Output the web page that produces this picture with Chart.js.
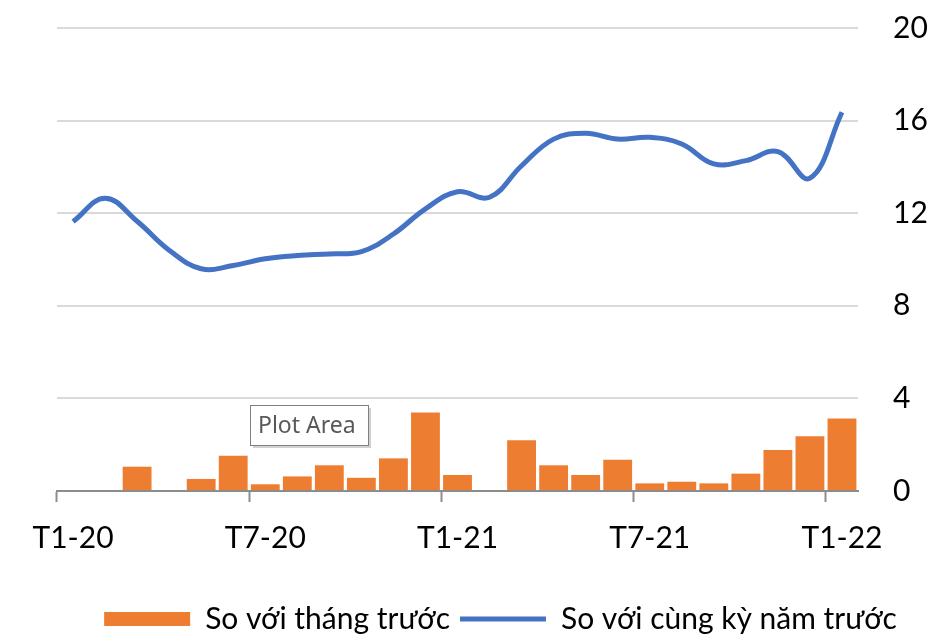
<!DOCTYPE html>
<html>
<head>
<meta charset="utf-8">
<script src="https://cdn.jsdelivr.net/npm/chart.js@4.4.1/dist/chart.umd.min.js"></script>
<style>
  html, body { margin: 0; padding: 0; background: #fff; }
  #wrap { width: 944px; height: 644px; }
</style>
</head>
<body>
<div id="wrap"><canvas id="cpiChart"></canvas></div>
<script>
"use strict";

// months T1-20 .. T1-22
var months = ['T1-20', 'T2-20', 'T3-20', 'T4-20', 'T5-20', 'T6-20', 'T7-20', 'T8-20', 'T9-20', 'T10-20', 'T11-20', 'T12-20',
    'T1-21', 'T2-21', 'T3-21', 'T4-21', 'T5-21', 'T6-21', 'T7-21', 'T8-21', 'T9-21', 'T10-21', 'T11-21', 'T12-21', 'T1-22'];
var soVoiThangTruoc = [0, 0, 1.05, 0, 0.52, 1.52, 0.29, 0.63, 1.11, 0.57, 1.41, 3.39,
    0.69, 0, 2.19, 1.11, 0.69, 1.35, 0.33, 0.40, 0.33, 0.75, 1.77, 2.37, 3.13];
var soVoiCungKy = [11.64, 12.65, 11.65, 10.4, 9.6, 9.74, 10.03, 10.17, 10.24, 10.34, 11.1, 12.19,
    12.93, 12.69, 14.05, 15.2, 15.45, 15.2, 15.28, 14.99, 14.13, 14.27, 14.66, 13.51, 16.36];
var yTicks = [0, 4, 8, 12, 16, 20];

var fontFamily = 'Lato, "Open Sans", sans-serif';

// the little Excel hover box
var plotAreaTip = {
    id: 'plotAreaTip',
    afterDraw: function (chart) {
        var c = chart.ctx;
        var x = 250, y = 405, w = 118, h = 40;
        c.save();
        c.fillStyle = 'rgba(0,0,0,0.18)';
        c.fillRect(x + 3, y + 3, w, h);
        c.fillStyle = '#fff';
        c.fillRect(x, y, w, h);
        c.strokeStyle = '#7f7f7f';
        c.lineWidth = 1;
        c.strokeRect(x + 0.5, y + 0.5, w, h);
        c.fillStyle = '#595959';
        c.font = '23px "Noto Sans", sans-serif';
        c.textBaseline = 'middle';
        c.fillText('Plot Area', x + 8, y + h / 2 + 1);
        c.restore();
    }
};

var ctx = document.getElementById('cpiChart').getContext('2d');
new Chart(ctx, {
    type: 'bar',
    data: {
        labels: months,
        datasets: [{
            type: 'bar',
            label: 'So với tháng trước',
            data: soVoiThangTruoc,
            backgroundColor: '#ED7D31',
            borderWidth: 0,
            barPercentage: 0.9,
            categoryPercentage: 1.0,
            pointStyle: 'rect'
        }, {
            type: 'line',
            label: 'So với cùng kỳ năm trước',
            data: soVoiCungKy,
            borderColor: '#4472C4',
            backgroundColor: '#4472C4',
            borderWidth: 5,
            pointRadius: 0,
            tension: 0.4,
            fill: false,
            pointStyle: 'line'
        }]
    },
    options: {
        responsive: true,
        maintainAspectRatio: false,
        animation: false,
        layout: { padding: { left: 57, right: 0, top: 0, bottom: 0 } },
        plugins: {
            tooltip: { enabled: false },
            legend: {
                position: 'bottom',
                labels: {
                    usePointStyle: true,
                    pointStyleWidth: 86,
                    boxHeight: 14,
                    padding: 10,
                    color: '#000',
                    font: { family: fontFamily, size: 30 }
                }
            }
        },
        scales: {
            x: {
                offset: true,
                afterFit: function (axis) {
                    axis.height = 103;
                },
                grid: {
                    offset: true,
                    drawOnChartArea: false,
                    tickLength: 11,
                    tickWidth: 2,
                    tickColor: function (c) {
                        return c.index !== undefined && c.index % 6 === 0 ? '#8c8c8c' : 'rgba(0,0,0,0)';
                    }
                },
                border: { display: true, color: '#8c8c8c', width: 2 },
                ticks: {
                    autoSkip: false,
                    maxRotation: 0,
                    padding: 18,
                    color: '#000',
                    font: { family: fontFamily, size: 30 },
                    callback: function (v, i) { return i % 6 === 0 ? months[i] : ''; }
                }
            },
            y: {
                position: 'right',
                min: 0,
                max: 20,
                afterBuildTicks: function (axis) {
                    axis.ticks = yTicks.map(function (v) { return { value: v }; });
                },
                afterFit: function (axis) {
                    axis.width = 86;
                    axis.paddingTop = 28;
                    axis.paddingBottom = 0;
                },
                grid: { color: '#d9d9d9', lineWidth: 2, drawTicks: false },
                border: { display: false },
                ticks: {
                    padding: 35,
                    color: '#000',
                    font: { family: fontFamily, size: 30 }
                }
            }
        }
    },
    plugins: [plotAreaTip]
});
</script>
</body>
</html>
